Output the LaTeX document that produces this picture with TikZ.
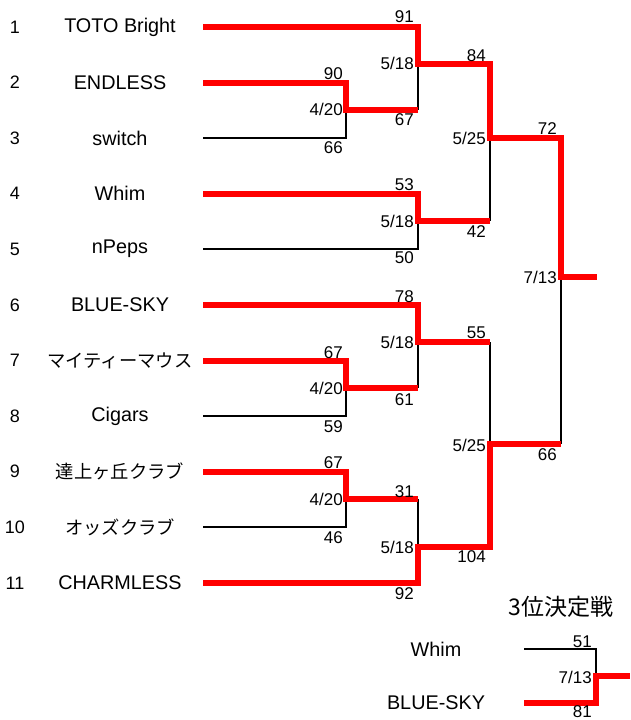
\documentclass[tikz,border=0pt]{standalone}
\usepackage{fontspec}
\setmainfont{Liberation Sans}
\newfontfamily\jpfont{Noto Sans CJK JP}
\begin{document}
\begin{tikzpicture}[x=1pt,y=-1pt,
  win/.style={draw=red, line width=6pt, line join=miter},
  lose/.style={draw=black, line width=1.3pt, line join=miter},
  team/.style={font=\fontsize{19.8}{22}\selectfont, inner sep=0pt},
  jteam/.style={font=\jpfont\fontsize{18.3}{22}\selectfont, inner sep=0pt},
  rank/.style={font=\fontsize{18}{22}\selectfont, inner sep=0pt},
  score/.style={font=\fontsize{17}{19}\selectfont, inner sep=0pt, anchor=base east},
  ratio/.style={font=\fontsize{17}{19}\selectfont, inner sep=0pt, anchor=east},
  title/.style={font=\jpfont\fontsize{23}{26}\selectfont, inner sep=0pt}]
\useasboundingbox (0,0) rectangle (630,720);

% rank numbers and team names
\foreach \i/\y in {1/27,2/82.5,3/138,4/193.5,5/249,6/305,7/360.5,8/416,9/471.5,10/527,11/583}{
  \node[rank] (r\i) at (15,\y) {\i};
  \coordinate (s\i) at (203,\y);
}
\node[team] (n1) at (120,27) {TOTO Bright};
\node[team] (n2) at (120,82.5) {ENDLESS};
\node[team] (n3) at (120,138) {switch};
\node[team] (n4) at (120,193.5) {Whim};
\node[team] (n5) at (120,249) {nPeps};
\node[team] (n6) at (120,305) {BLUE-SKY};
\node[jteam] (n7) at (120,360.5) {マイティーマウス};
\node[team] (n8) at (120,416) {Cigars};
\node[jteam] (n9) at (120,471.5) {達上ヶ丘クラブ};
\node[jteam] (n10) at (120,527) {オッズクラブ};
\node[team] (n11) at (120,583) {CHARMLESS};

% junctions
\coordinate (j23) at (346,110);
\coordinate (j1) at (418,64);
\coordinate (j45) at (418,221);
\coordinate (jA) at (490,138);
\coordinate (jF) at (561,277);
\coordinate (fend) at (597,277);
\coordinate (j6) at (418,342);
\coordinate (j78) at (346,388);
\coordinate (j910) at (346,499);
\coordinate (j11) at (418,547);
\coordinate (jB) at (490,444);

% losing lines
\draw[lose] (s3) -| (j23);
\draw[lose] (j1) -- (j23 -| j1);
\draw[lose] (s5) -| (j45);
\draw[lose] (jA) -- (j45 -| jA);
\draw[lose] (jF) -- (jB -| jF);
\draw[lose] (s8) -| (j78);
\draw[lose] (j6) -- (j78 -| j6);
\draw[lose] (j6 -| jB) -- (jB);
\draw[lose] (s10) -| (j910);
\draw[lose] (j910 -| j11) -- (j11);

% winning lines
\draw[win] (s1) -| (j1) -- (j1 -| jA) -- (jA) -- (jA -| jF) -- (jF) -- (fend);
\draw[win] (s2) -| (j23) -- (j23 -| j1);
\draw[win] (s4) -| (j45) -- (j45 -| jA);
\draw[win] (s6) -| (j6) -- (j6 -| jB);
\draw[win] (s7) -| (j78) -- (j78 -| j6);
\draw[win] (s9) -| (j910) -- (j910 -| j11);
\draw[win] (s11) -| (j11) -- (j11 -| jB) -- (jB) -- (jB -| jF);

% scores
\node[score] (p1) at (414,23) {91};
\node[score] (p2) at (343,79) {90};
\node[score] (p3) at (414,125) {67};
\node[score] (p4) at (343,153) {66};
\node[score] (p5) at (486,61) {84};
\node[score] (p6) at (486,237) {42};
\node[score] (p7) at (557,134) {72};
\node[score] (p8) at (557,460) {66};
\node[score] (p9) at (414,190) {53};
\node[score] (p10) at (414,263) {50};
\node[score] (p11) at (414,302) {78};
\node[score] (p12) at (486,338) {55};
\node[score] (p13) at (343,358) {67};
\node[score] (p14) at (414,405) {61};
\node[score] (p15) at (343,432) {59};
\node[score] (p16) at (343,468) {67};
\node[score] (p17) at (414,497) {31};
\node[score] (p18) at (343,543) {46};
\node[score] (p19) at (486,562) {104};
\node[score] (p20) at (414,599) {92};

% dates
\node[ratio] (d1) at (414,63) {5/18};
\node[ratio] (d2) at (343,109) {4/20};
\node[ratio] (d3) at (486,138) {5/25};
\node[ratio] (d4) at (557,277) {7/13};
\node[ratio] (d5) at (414,221) {5/18};
\node[ratio] (d6) at (414,342) {5/18};
\node[ratio] (d7) at (343,388) {4/20};
\node[ratio] (d8) at (486,445) {5/25};
\node[ratio] (d9) at (343,499) {4/20};
\node[ratio] (d10) at (414,547) {5/18};

% third place match
\node[title] (tt) at (561,607) {3位決定戦};
\node[team] (w1) at (436,649) {Whim};
\node[team] (w2) at (436,703) {BLUE-SKY};
\coordinate (t1) at (524,649);
\coordinate (t2) at (524,703);
\coordinate (j3) at (596,676);
\coordinate (tend) at (630,676);
\draw[lose] (t1) -| (j3);
\draw[win] (t2) -| (j3) -- (tend);
\node[score] (q1) at (592,647) {51};
\node[score] (q2) at (592,717) {81};
\node[ratio] (q3) at (592,677) {7/13};
\end{tikzpicture}
\end{document}
